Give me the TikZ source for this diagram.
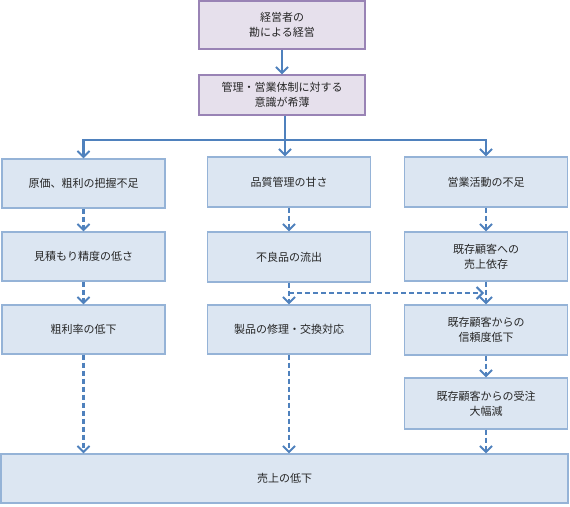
\documentclass[tikz,border=0pt]{standalone}
\usepackage{fontspec}
\setmainfont{Noto Sans CJK JP}
\usetikzlibrary{arrows.meta}
\definecolor{boxfill}{HTML}{DCE6F2}
\definecolor{boxline}{HTML}{95B3D7}
\definecolor{topfill}{HTML}{E6E0EC}
\definecolor{topline}{HTML}{9983B5}
\definecolor{arrowblue}{HTML}{4F81BD}
\tikzset{
  causebox/.style={draw=boxline, line width=1.2pt, fill=boxfill, align=center,
    inner sep=0pt, minimum width=163pt, minimum height=49pt,
    font=\fontsize{11}{15}\selectfont, text=black!85},
  rootbox/.style={causebox, draw=topline, fill=topfill, minimum width=166pt},
  solidarrow/.style={draw=arrowblue, line width=2.4pt,
    -{Straight Barb[length=6pt,width=12pt,line width=2pt]}},
  dasharrow/.style={solidarrow, dash pattern=on 5pt off 3pt}
}

\begin{document}
\begin{tikzpicture}[x=1pt,y=-1pt]
  \useasboundingbox (0,0) rectangle (570,506);

  % top of the chain
  \node[rootbox, minimum height=48pt] (head) at (282,25) {経営者の\\勘による経営};
  \node[rootbox, minimum height=40pt] (aware) at (282,95) {管理・営業体制に対する\\意識が希薄};

  % three columns
  \node[causebox, minimum height=49pt] (cost) at (83.5,183.5) {原価、粗利の把握不足};
  \node[causebox] (estimate) at (83.5,256.5) {見積もり精度の低さ};
  \node[causebox] (margin) at (83.5,329.5) {粗利率の低下};

  \node[causebox, minimum height=50pt] (quality) at (289,182) {品質管理の甘さ};
  \node[causebox, minimum height=50pt] (defect) at (289,257) {不良品の流出};
  \node[causebox] (repair) at (289,329.5) {製品の修理・交換対応};

  \node[causebox, minimum height=50pt] (activity) at (486,182) {営業活動の不足};
  \node[causebox] (depend) at (486,256.5) {既存顧客への\\売上依存};
  \node[causebox, minimum height=50pt] (trust) at (486,330) {既存顧客からの\\信頼度低下};
  \node[causebox, minimum height=51pt] (orders) at (486,403.5) {既存顧客からの受注\\大幅減};

  % common result
  \node[causebox, minimum width=567pt] (sales) at (284.5,478.5) {売上の低下};

  % solid connectors
  \coordinate (split) at (285,140);
  \draw[solidarrow] (head) -- (aware);
  \draw[solidarrow, -] (aware.south -| split) -- (split);
  \draw[solidarrow] (split) -| (cost.north);
  \draw[solidarrow] (split) -- (quality.north -| split);
  \draw[solidarrow] (split) -| (activity.north);

  % dashed connectors
  \draw[dasharrow] (cost) -- (estimate);
  \draw[dasharrow] (estimate) -- (margin);
  \draw[dasharrow] (margin) -- (margin.south |- sales.north);

  \draw[dasharrow] (quality) -- (defect);
  \draw[dasharrow] (defect) -- (repair);
  \draw[dasharrow] (repair) -- (repair.south |- sales.north);
  \coordinate (leak) at (289,293);
  \coordinate (leakend) at (484,293);
  \draw[dasharrow] (leak) -- (leakend);

  \draw[dasharrow] (activity) -- (depend);
  \draw[dasharrow] (depend) -- (trust);
  \draw[dasharrow] (trust) -- (orders);
  \draw[dasharrow] (orders) -- (orders.south |- sales.north);
\end{tikzpicture}
\end{document}
